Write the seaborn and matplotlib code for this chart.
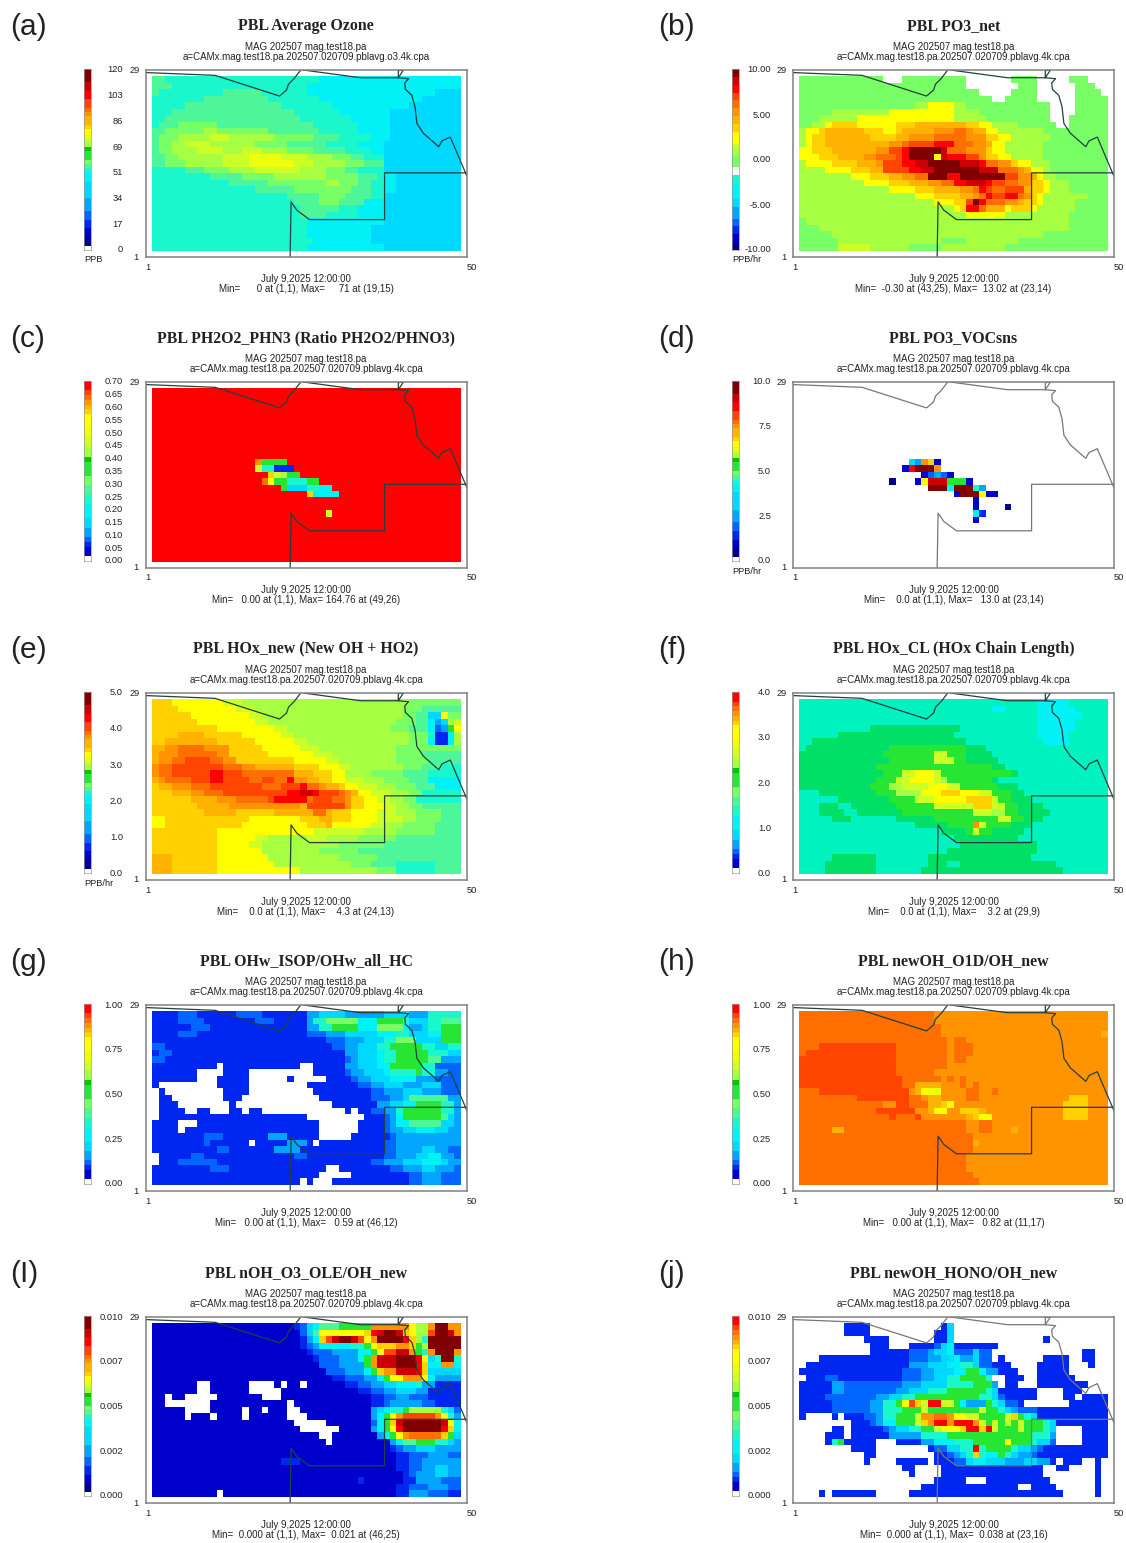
import numpy as np
import matplotlib
matplotlib.use("Agg")
import matplotlib.pyplot as plt
from matplotlib.colors import ListedColormap
import seaborn as sns

sns.set_style("white")
plt.rcParams['font.family'] = ['Liberation Sans', 'DejaVu Sans']

W, H = 1126, 1543

# colour levels of the colour bar, a (navy) .. x (dark red), y/z are extra greens
level_chars = "abcdefghijklmnopqrstuvwxyz"
level_colors = [
    (0, 0, .55), (0, 0, .8), (0, .15, .95), (0, .4, 1), (0, .65, 1), (0, .85, 1),
    (0, .95, .97), (.1, .97, .8), (.3, .97, .6), (.47, 1, .4), (.15, .9, .2), (0, .78, 0),
    (.65, 1, .25), (.8, 1, .15), (.93, 1, .05), (1, 1, 0), (1, .82, 0), (1, .7, 0),
    (1, .58, 0), (1, .43, 0), (1, .27, 0), (1, 0, 0), (.8, 0, 0), (.5, 0, 0),
    (0, .88, .4), (0, .95, .75),
]

# colour bars, bottom to top ('.' = white cell)
bar_dark = ".aabbccddeeeffffgghijkklmnopqrrstuuvvwwxxx"
bar_red = ".bbcdeeffggghhiijjkkklmmnnoopppqrstuvv"
bar_mid = "aabbccddeeeffgggghh..jjjmmnpppqqrrssttuuvvwwxx"

# grid rows top to bottom, written as count+level ('.' = no value)
ozone = [
    "2i 24h 22g", "3i 21h 24g", "1i 10h 6i 7h 20g 4f", "8h 10i 8h 16g 6f", "5h 15i 8h 12g 8f",
    "3h 19i 7h 8g 11f", "2h 21i 8h 6g 11f", "1h 3i 6j 15i 7h 5g 11f", "2i 6j 2m 8j 8i 6h 5g 11f",
    "1i 3j 5m 3n 7m 6j 4i 5h 3g 11f", "1i 2j 2m 4n 7m 5j 6i 5h 4g 12f", "1i 2j 4m 4n 3m 3n 4m 4j 5i 4h 2g 12f",
    "2i 2j 7m 4n 5o 4n 4m 3j 2i 3h 12f", "2i 3j 6m 4n 7o 3n 5m 3j 3i 12f", "5h 3i 4j 4m 7n 4m 3j 2i 4h 12f",
    "9h 5i 5j 8m 5j 3i 1h 2g 10f", "12h 6i 9j 2m 3j 2i 2h 2g 10f", "16h 6i 9j 3i 2h 2g 10f",
    "21h 5i 4j 4i 2h 12f", "22h 4i 3j 4i 3g 12f", "23h 6i 3h 4g 12f", "23h 4i 5h 4g 12f",
    "24h 12g 12f", "24h 10g 14f", "24h 10g 14f", "25h 9g 14f", "24h 12g 12f",
]
po3_net = [
    "13j 3. 10j 7. 4j 5. 3j 3.", "26j 8. 3j 6. 3j 2.", "28j 5. 4j 6. 4j 1.", "30j 2. 5j 6. 5j",
    "18j 2m 4p 2m 13j 4. 5j", "5j 9m 10p 4m 11j 4. 5j", "3j 6m 15p 5m 10j 3. 6j",
    "2j 2m 1p 4q 6p 3q 8r 2q 2p 4m 6j 2. 6j", "1m 2p 1q 6r 3q 2p 1q 5r 3s 2t 1s 2r 2p 7m 10j",
    "1m 1p 2q 7r 4q 2r 4s 5t 3s 2q 2p 6m 9j", "1m 1p 2q 10r 2s 1t 4u 3v 3t 2s 1r 2p 6m 10j",
    "2p 3q 7r 2s 2u 1v 5x 1w 3t 3s 1q 2p 6m 10j", "3p 3q 4r 2s 3t 1u 1v 4x 1p 1w 3v 2u 1s 2q 2p 5m 10j",
    "1m 4p 4q 3r 1s 3u 2v 2w 5x 3w 1v 2t 2s 1q 2p 3m 9j", "4m 4p 3q 2r 4u 2v 2w 7x 3w 3t 1s 1r 2p 1m 9j",
    "8m 3p 3q 2r 2s 2t 3x 2v 7x 2u 2s 1r 1p 2m 8j", "10m 4p 3q 3r 2s 2t 2v 3w 1v 2u 2t 2s 2q 1p 3m 6j",
    "14m 4p 3q 4r 2s 1t 1v 1u 2t 3u 1r 2q 1p 3m 6j", "18m 3p 4q 2r 1s 1t 1v 2u 2v 1t 1s 1q 1p 7m 3j",
    "21m 3p 2q 1u 1x 1v 3t 2s 1r 2q 1p 5m 5j", "24m 1p 1q 2v 1t 3r 1p 3q 1p 6m 5j", "26m 6p 10m 6j",
    "1j 41m 6j", "3j 39m 6j", "5j 33m 10j", "6j 16m 4j 8m 14j", "6j 5n 6m 5j 10m 16j",
]
ph2o2_phn3 = [
    "48v", "48v", "48v", "48v", "48v", "48v", "48v", "48v", "48v", "48v", "48v",
    "16v 1s 4k 27v", "16v 1n 2h 3c 26v", "18v 1q 1n 1m 2k 25v", "17v 1t 1p 2k 3h 2k 22v",
    "20v 1k 3f 2h 2g 20v", "24v 1q 4g 19v", "48v", "48v", "27v 1n 20v",
    "48v", "48v", "48v", "48v", "48v", "48v", "48v",
]
po3_vocsns = [
    "48.", "48.", "48.", "48.", "48.", "48.", "48.", "48.", "48.", "48.", "48.",
    "17. 1f 1e 1s 1q 1b 26.", "16. 1b 1v 3x 1s 26.", "19. 1b 1d 1e 1d 1b 24.",
    "14. 1a 3. 1b 1p 3w 3k 1b 21.", "20. 3x 1g 3x 1h 1e 19.", "24. 1b 3x 1p 2b 17.",
    "27. 1b 20.", "27. 1b 4. 1a 15.", "27. 1g 1c 19.", "27. 1b 20.",
    "48.", "48.", "48.", "48.", "48.", "48.",
]
hox_new = [
    "3q 8p 3n 26m 8j", "4q 9p 3n 23m 3j 6i", "6q 9p 2n 22m 2j 2i 2f 1p 2j",
    "7q 9p 2n 20m 3j 2i 1g 1e 1f 1m 1n", "10q 9p 2n 16m 3j 3i 1g 1d 1e 1k 1p",
    "4q 4r 6q 6p 2n 18m 3j 1h 2c 1g 1m", "2q 8r 6q 6p 2n 16m 3j 1g 2c 1g 1m",
    "2r 2s 4t 4s 5q 6p 3n 12m 10j", "1r 3s 6t 2s 6q 7p 3n 10m 4j 6i",
    "1r 2s 2t 4u 2t 2s 9q 5p 2n 9m 5j 5i", "1s 2t 8u 3t 2s 6r 4q 3p 2n 8m 3j 3i 3h",
    "1s 2t 6u 2v 3u 8t 3r 3q 2p 4m 5j 4i 5h", "1r 1s 4t 3u 2v 4u 2t 2u 2t 1v 2s 2r 2q 2p 3n 3m 4j 3i 5g",
    "1q 2r 3s 3t 8u 3t 3u 1v 2t 1s 2r 1q 2p 3n 3m 3j 3i 4g", "3q 3r 2s 3t 10u 2v 2w 1v 3u 1t 1s 1r 2p 3n 3m 2j 6h",
    "6q 4r 3s 5t 1u 5v 1t 3u 2t 1s 2q 2p 2n 2m 2j 7h", "7q 5r 11s 1r 6u 1s 2q 3p 2n 2m 2j 6i",
    "8q 5r 6q 6r 2t 1r 3q 4p 3n 3m 4j 3i", "2p 13q 8p 3q 2r 3q 4p 4n 2m 4j 3i",
    "2p 12q 10p 3q 1r 6p 2n 3m 5j 4i", "10q 15p 8n 5m 6j 4i", "10q 6p 2n 6m 3n 5m 6j 10i",
    "10q 5p 2n 12m 7j 12i", "10q 7p 9m 6j 16i", "3r 7q 8p 11m 6j 13i",
    "3r 7q 9p 12m 3j 4i 6h 4i", "3r 7q 13p 12m 3j 6h 4i",
]
hox_cl = [
    "37z 5g 6z", "30z 2g 5z 6g 5z", "37z 7g 4z", "37z 6g 5z", "11z 14y 12z 6g 5z",
    "6z 18y 13z 5g 6z", "2z 24y 12z 4g 6z", "1z 13y 12k 3y 19z", "13y 8k 2n 3k 4y 18z",
    "14y 7k 3n 2k 5y 17z", "12y 18k 2y 16z", "13y 3k 2n 3p 1n 11k 1y 14z",
    "12y 3k 2n 4p 1n 1m 7k 1y 17z", "11y 3k 2m 4n 1o 2p 2n 6k 3y 14z",
    "3z 9y 3k 4m 3p 3q 3p 2n 3k 2y 13z", "6z 8y 4k 3n 5p 4q 1n 2k 3y 12z",
    "3z 3y 2z 7y 6k 3n 3n 3q 2n 2k 4y 10z", "3z 4y 2z 7y 11k 3n 2m 2k 5y 9z",
    "5z 3y 7z 6y 10k 2n 2k 3y 10z", "18z 5y 4k 1s 1n 4k 3y 12z", "22z 4y 1k 1n 2k 5y 13z",
    "24z 10y 14z", "25z 12y 11z", "23z 14y 11z", "5z 7y 8z 16y 12z",
    "4z 8y 8z 3y 2z 15y 8z", "4z 8y 7z 3y 19y 7z",
]
ohw_isop = [
    "4c 3d 6c 4d 7c 2e 4f 6e 4f 3e 5h", "4c 4d 8c 3d 5c 1e 2h 5j 3g 4k 1h 3f 2h 3i",
    "6c 3d 15c 2e 2h 4k 3g 4j 1g 2e 1f 2h 3k", "4c 3d 17c 3d 3e 5f 3g 2h 3f 2g 3k",
    "24c 3c 3d 3e 3f 2h 3j 4f 3k", "2d 26c 2d 2e 3f 2h 5k 2h 2f 2h",
    "1c 2d 27c 2e 3f 1g 2h 5k 3h 2f", "2d 28c 1d 1e 3f 1g 2h 5k 2i 3e",
    "10c 1. 12c 2. 5c 2e 3f 2g 5k 2h 4d", "7c 4. 4c 10. 5c 1d 2e 3f 1g 4h 1k 2h 2e 2d",
    "7c 3. 5c 6. 1c 5. 4c 1d 2e 3f 4g 3e 4d", "1c 9. 5c 9. 8c 2d 2e 3f 3e 3f 3d",
    "1. 1c 9. 4c 10. 9c 2d 3e 3f 3e 3d", "1. 2c 8. 3c 12. 8c 3d 2e 1f 6i 2e",
    "1. 3c 8. 1c 15. 7c 2e 2f 2g 4k 2h 1e", "1. 4c 2. 2c 3. 2c 1. 2c 13. 1c 1. 2c 2d 2e 1h 6k 2h 1e",
    "1. 23c 9. 3c 1d 1e 1g 6k 1i 1f 1e", "4c 3. 19c 6. 4c 1d 1e 2g 5i 2f 1e",
    "4c 1. 21c 6. 4c 1d 2e 2f 3g 2f 2e", "8c 3d 7c 3e 5c 5. 6c 1d 10e",
    "8c 1d 6c 1. 5c 3e 1c 1. 10c 2d 10e", "10c 2d 7c 4e 13c 2d 4e 2f 2e 2d",
    "1. 5c 2d 14c 2d 12c 2d 3e 2f 2g 2e 3d", "1. 3c 6d 13c 11c 2d 3e 3f 3g 1f 2e",
    "9c 3d 15c 2. 8c 2d 3e 2f 3e 1d", "26c 5. 9c 2d 3e 3d", "23c 1. 1c 3. 12c 2d 3e 3d",
]
newoh_o1d = [
    "21t 27s", "21t 27s", "22t 26s", "22t 25s 1r", "23t 1s 2t 22s", "3t 12u 8t 1s 3t 21s",
    "1t 14u 8t 1s 3t 21s", "15u 8t 1s 2t 22s", "15u 8t 25s", "15u 6t 27s",
    "16u 6t 1s 1t 1s 1t 22s", "16u 2t 4r 3s 1t 1s 1t 20s", "3t 14u 1s 1r 1p 2o 4s 1t 1t 2s 1t 17s",
    "9t 8u 2t 1s 2r 4s 2t 14s 3q 3s", "13t 2s 2u 3t 1r 1r 1q 1p 17s 4q 3s",
    "12t 6u 2s 1r 2p 2s 3q 1r 12s 4q 3s", "14t 1u 3t 1u 7s 1r 1q 2p 11s 4q 3s",
    "26t 2s 2t 18s", "5t 2r 19t 2s 2t 3s 1r 14s", "27t 21s", "27t 1r 20s", "27t 21s",
    "26t 22s", "26t 22s", "26t 22s", "27t 21s", "28t 20s",
]
noh_o3_ole = [
    "22b 1c 1d 1f 1g 3i 5k 6s 1p 2m 1s 2x 2s", "23b 1d 1f 1i 7p 1q 1v 1w 2x 1w 1q 1p 2m 1u 2x 1w 1s",
    "23b 1c 1e 1g 1q 1u 1w 2x 1w 1u 1p 1s 4x 1v 1q 1m 1h 5x", "23b 1c 1d 1e 5g 2h 1k 1p 3q 2s 1q 1k 1m 5x",
    "24b 1c 3d 4e 2g 1k 1p 2u 2w 1s 1k 1h 1s 3x 1s", "25b 1c 3d 3e 1g 1k 1s 3w 3x 1v 1p 1f 1h 2x 1h",
    "26b 3d 4e 1k 1s 3w 3x 1v 1q 2g 2s 1g", "27b 3d 3e 1g 1k 1q 2s 3w 1v 1q 5f",
    "28b 2c 3d 2e 1g 1k 2p 3s 1p 1g 4e", "7b 2. 6b 4. 1b 1. 2b 1. 6b 2c 2d 2e 2f 3g 1h 2e 4c",
    "7b 2. 6b 5. 12b 2c 2d 2e 3f 2e 5c", "2b 1. 2b 5. 7b 3. 14b 2c 2d 2e 3d 5c",
    "2b 7. 12b 1. 12b 2c 1d 3e 2e 2d 3c 1c", "5b 4. 5b 1. 2b 1. 3b 2. 11b 1e 1f 1g 2h 1k 5m 1h 1f 1d",
    "5b 1. 3b 1. 4b 1. 6b 3. 10b 1e 1g 1k 1p 1s 5u 1s 1p 1h 1e", "22b 5. 7b 1d 1g 1k 1q 1w 6x 1w 1p 1g",
    "23b 6. 5b 1e 1g 1k 1p 1v 6x 1v 1q 1g", "26b 2. 7b 1e 1g 1k 1p 1s 5t 1q 1k 1f",
    "27b 1. 9b 1e 1g 2i 3k 2h 1f 1e", "37b 1c 1d 2e 3f 2e 2e", "38b 2c 3d 3e 2d",
    "20b 3c 15b 2c 2d 3e 3e", "38b 2c 2d 2e 2f 2e", "39b 1c 1d 3e 2f 2e",
    "32b 1c 6b 2c 4e 3d", "38b 2c 3d 3e 2d", "10b 1. 27b 2c 3e 3d 2c",
]
newoh_hono = [
    "7. 4c 11. 1c 1f 24.", "7. 4c 10. 2c 1f 24.", "10. 4c 7. 2c 1f 14. 1c 9.",
    "11. 3c 3. 4c 1d 1f 1g 7c 17.", "11. 6c 3d 1e 2f 1g 3d 1f 2d 14. 2c 2.",
    "3. 14c 3d 2e 2f 1g 2e 1f 2d 1. 1c 6. 4c 2. 2c 2.", "1. 16c 3e 3f 2g 2h 1f 2d 3c 4. 5c 3. 1c 2.",
    "16c 3d 2e 3f 2g 2k 1g 2e 3c 3. 5c 6.", "1. 3c 2d 10c 3d 2e 2f 2h 4k 1h 2. 3c 2. 6c 5.",
    "5c 2e 9d 3e 4f 4h 3k 1e 1. 2c 3. 8c 3.", "5c 2e 8d 2e 3f 3h 6k 1h 1f 6c 4. 3c 4.",
    "4c 8d 2e 2f 2h 10k 2h 1f 1d 5c 4. 2c 1. 4c", "5c 6d 2e 2h 1k 1p 1u 1q 1n 2v 2n 1k 1g 3e 1k 1h 1f 2d 1c 7. 6c",
    "5c 6d 2e 3h 3k 1n 8k 1n 2k 1h 1f 1e 3d 11c", "1c 4. 1c 1. 3c 2d 1e 2h 2k 1k 1n 2s 2t 1s 2p 2n 4k 1n 1q 1k 1h 1f 11c",
    "8. 3c 1d 1e 2g 3k 1n 1q 1s 2v 1s 3v 1s 1n 1k 1n 1k 1n 1k 1n 3k 1h 1f 8c",
    "5. 2c 1. 5c 1d 1e 2f 2h 2k 1n 3p 1q 2v 1q 1v 1n 3k 1n 3k 1h 1f 4. 4c",
    "4. 3c 1. 6c 5e 4h 13k 3h 1e 4. 4c", "4. 1c 1h 1k 5c 3. 4c 2e 3g 3h 3k 2k 1p 3k 1h 2f 1d 4. 4c",
    "8. 4c 8. 1c 2d 2f 2h 1v 1h 4k 1h 2f 1e 1d 10c", "10. 2c 9. 2c 1d 1e 1f 1h 1q 1h 2g 1k 1h 1f 2e 1d 2c 2c 7c",
    "10. 1c 4. 5c 1. 3c 2d 1f 2g 3f 3e 2f 2e 1c 1. 3c 2. 1c 1.", "16. 2c 4. 16c 2. 2c 4. 1c 1.",
    "17. 1c 4. 16c 8. 1c 1.", "21. 5c 3. 10c 7. 1c 1.", "19. 15c 2. 4c 6. 1c 1.",
    "3. 1c 1. 7c 5. 24c 5. 1c 1.",
]

# colour bar tick labels, top to bottom
ticks_ozone = ["120", "103", "86", "69", "51", "34", "17", "0"]
ticks_po3 = ["10.00", "5.00", "0.00", "-5.00", "-10.00"]
ticks_ph = ["0.70", "0.65", "0.60", "0.55", "0.50", "0.45", "0.40", "0.35", "0.30", "0.25", "0.20", "0.15", "0.10", "0.05", "0.00"]
ticks_voc = ["10.0", "7.5", "5.0", "2.5", "0.0"]
ticks_hox = ["5.0", "4.0", "3.0", "2.0", "1.0", "0.0"]
ticks_cl = ["4.0", "3.0", "2.0", "1.0", "0.0"]
ticks_frac = ["1.00", "0.75", "0.50", "0.25", "0.00"]
ticks_small = ["0.010", "0.007", "0.005", "0.002", "0.000"]

# state outline in grid units (x 0-50, y 0-29)
border_x = [0, 10.76, 20.8, 21.9, 22.2, 23.1, 24.1]
border_y = [28.6, 28.17, 24.96, 25.9, 26.8, 27.7, 29]
east_x = [24.5, 33.4, 39.3, 39.3, 40.1, 39.3, 40.9, 40.3, 40.4, 41.4, 41.9, 42.2, 43.2, 45.6, 46.1, 47.4, 50]
east_y = [29, 27.8, 27.8, 28.9, 29, 27.8, 27.65, 27.0, 26.0, 25.07, 23.3, 20.7, 19.2, 17.1, 18.0, 18.6, 12.5]
county_x = [50, 37.16, 37.16, 25.47, 23.5, 22.6, 22.45]
county_y = [13.05, 13.05, 5.8, 5.8, 7.25, 8.55, 0]

sub_a = "a=CAMx.mag.test18.pa.202507.020709.pblavg.o3.4k.cpa"
sub_b = "a=CAMx.mag.test18.pa.202507.020709.pblavg.4k.cpa"

panels = [
    ("(a)", "PBL Average Ozone", sub_a, "Min=      0 at (1,1), Max=     71 at (19,15)", ozone, ticks_ozone, "PPB", bar_dark),
    ("(b)", "PBL PO3_net", sub_b, "Min=  -0.30 at (43,25), Max=  13.02 at (23,14)", po3_net, ticks_po3, "PPB/hr", bar_mid),
    ("(c)", "PBL PH2O2_PHN3 (Ratio PH2O2/PHNO3)", sub_b, "Min=   0.00 at (1,1), Max= 164.76 at (49,26)", ph2o2_phn3, ticks_ph, "", bar_red),
    ("(d)", "PBL PO3_VOCsns", sub_b, "Min=    0.0 at (1,1), Max=   13.0 at (23,14)", po3_vocsns, ticks_voc, "PPB/hr", bar_dark),
    ("(e)", "PBL HOx_new (New OH + HO2)", sub_b, "Min=    0.0 at (1,1), Max=    4.3 at (24,13)", hox_new, ticks_hox, "PPB/hr", bar_dark),
    ("(f)", "PBL HOx_CL (HOx Chain Length)", sub_b, "Min=    0.0 at (1,1), Max=    3.2 at (29,9)", hox_cl, ticks_cl, "", bar_red),
    ("(g)", "PBL OHw_ISOP/OHw_all_HC", sub_b, "Min=   0.00 at (1,1), Max=   0.59 at (46,12)", ohw_isop, ticks_frac, "", bar_red),
    ("(h)", "PBL newOH_O1D/OH_new", sub_b, "Min=   0.00 at (1,1), Max=   0.82 at (11,17)", newoh_o1d, ticks_frac, "", bar_red),
    ("(I)", "PBL nOH_O3_OLE/OH_new", sub_b, "Min=  0.000 at (1,1), Max=  0.021 at (46,25)", noh_o3_ole, ticks_small, "", bar_dark),
    ("(j)", "PBL newOH_HONO/OH_new", sub_b, "Min=  0.000 at (1,1), Max=  0.038 at (23,16)", newoh_hono, ticks_small, "", bar_red),
]

row_top = [70, 382, 693, 1005, 1317]
row_bottom = [257, 568, 880, 1191, 1503]
col_left = [146, 793]
col_right = [467, 1114]
col_center = [306, 953.5]
bar_left = [84, 732]
label_x = [10, 658]

cmap = ListedColormap(level_colors)
cmap.set_bad((1, 1, 1, 0))


def decode_row(text):
    out = []
    for tok in text.split():
        n = int(tok[:-1]) if len(tok) > 1 else 1
        ch = tok[-1]
        out += [np.nan if ch == "." else float(level_chars.index(ch))] * n
    return (out + [np.nan] * 48)[:48]


def decode_grid(rows):
    # 29 x 50 model grid with an empty one-cell border
    grid = np.full((29, 50), np.nan)
    grid[1:28, 1:49] = [decode_row(r) for r in rows]
    return grid


def px_axes(fig, x0, y0, x1, y1):
    return fig.add_axes([x0 / W, 1 - y1 / H, (x1 - x0) / W, (y1 - y0) / H])


def px_text(fig, x, y, s, **kw):
    fig.text(x / W, 1 - y / H, s, va="center", color="#222222", **kw)


fig = plt.figure(figsize=(W / 100, H / 100), dpi=100, facecolor="white")

for i, (label, title, sub, minmax, rows, ticks, unit, bar) in enumerate(panels):
    r, c = i // 2, i % 2
    x0, x1 = col_left[c], col_right[c]
    y0, y1 = row_top[r], row_bottom[r]
    mid = col_center[c]

    ax = px_axes(fig, x0, y0, x1, y1)
    sns.heatmap(decode_grid(rows), ax=ax, cmap=cmap, vmin=-0.5, vmax=25.5, cbar=False,
                xticklabels=False, yticklabels=False)
    ax.tick_params(length=0)
    for s in ax.spines.values():
        s.set_visible(True)
        s.set_color("#808080")
        s.set_linewidth(1.1)
    line_col = "#777777" if rows in (po3_vocsns, newoh_hono) else "#23403f"
    for bx, by in [(border_x, border_y), (east_x, east_y), (county_x, county_y)]:
        sns.lineplot(x=bx, y=[29 - v for v in by], ax=ax, color=line_col, linewidth=0.9,
                     sort=False, estimator=None, legend=False)
    ax.set_xlim(0, 50)
    ax.set_ylim(29, 0)
    ax.set_xlabel("")
    ax.set_ylabel("")
    ax.set_xticks([])
    ax.set_yticks([])

    # colour bar, built from the same levels
    bar_vals = [[np.nan if b == "." else float(level_chars.index(b))] for b in bar[::-1]]
    bar_top, bar_bottom = y0 - 1, y1 - 7
    cax = px_axes(fig, bar_left[c], bar_top, bar_left[c] + 7, bar_bottom)
    sns.heatmap(np.array(bar_vals), ax=cax, cmap=cmap, vmin=-0.5, vmax=25.5, cbar=False,
                xticklabels=False, yticklabels=False)
    cax.tick_params(length=0)
    for s in cax.spines.values():
        s.set_visible(True)
        s.set_color("#999999")
        s.set_linewidth(0.5)

    tick_right = bar_left[c] + 39
    for k, t in enumerate(ticks):
        ty = bar_top + 1 + (bar_bottom - bar_top - 1) * k / (len(ticks) - 1)
        px_text(fig, tick_right, ty, t, ha="right", fontsize=6.7)
    if unit:
        px_text(fig, bar_left[c], y1 + 3, unit, ha="left", fontsize=6.7)

    px_text(fig, x0 - 6, y0 + 0.5, "29", ha="right", fontsize=6.7)
    px_text(fig, x0 - 7, y1, "1", ha="right", fontsize=6.7)
    px_text(fig, x0 + 2, y1 + 10, "1", ha="center", fontsize=6.7)
    px_text(fig, x1 + 5, y1 + 10, "50", ha="center", fontsize=6.7)

    px_text(fig, mid, y0 - 44, title, ha="center", fontsize=11.4, fontweight="bold",
            family=["Liberation Serif"])
    px_text(fig, mid, y0 - 23, "MAG 202507 mag.test18.pa", ha="center", fontsize=7)
    px_text(fig, mid, y0 - 13, sub, ha="center", fontsize=7)
    px_text(fig, mid, y1 + 22, "July 9,2025 12:00:00", ha="center", fontsize=7)
    px_text(fig, mid, y1 + 32, minmax, ha="center", fontsize=7)
    px_text(fig, label_x[c], y0 - 43, label, ha="left", fontsize=21.5)

fig.savefig("out.png", dpi=100, facecolor="white")
